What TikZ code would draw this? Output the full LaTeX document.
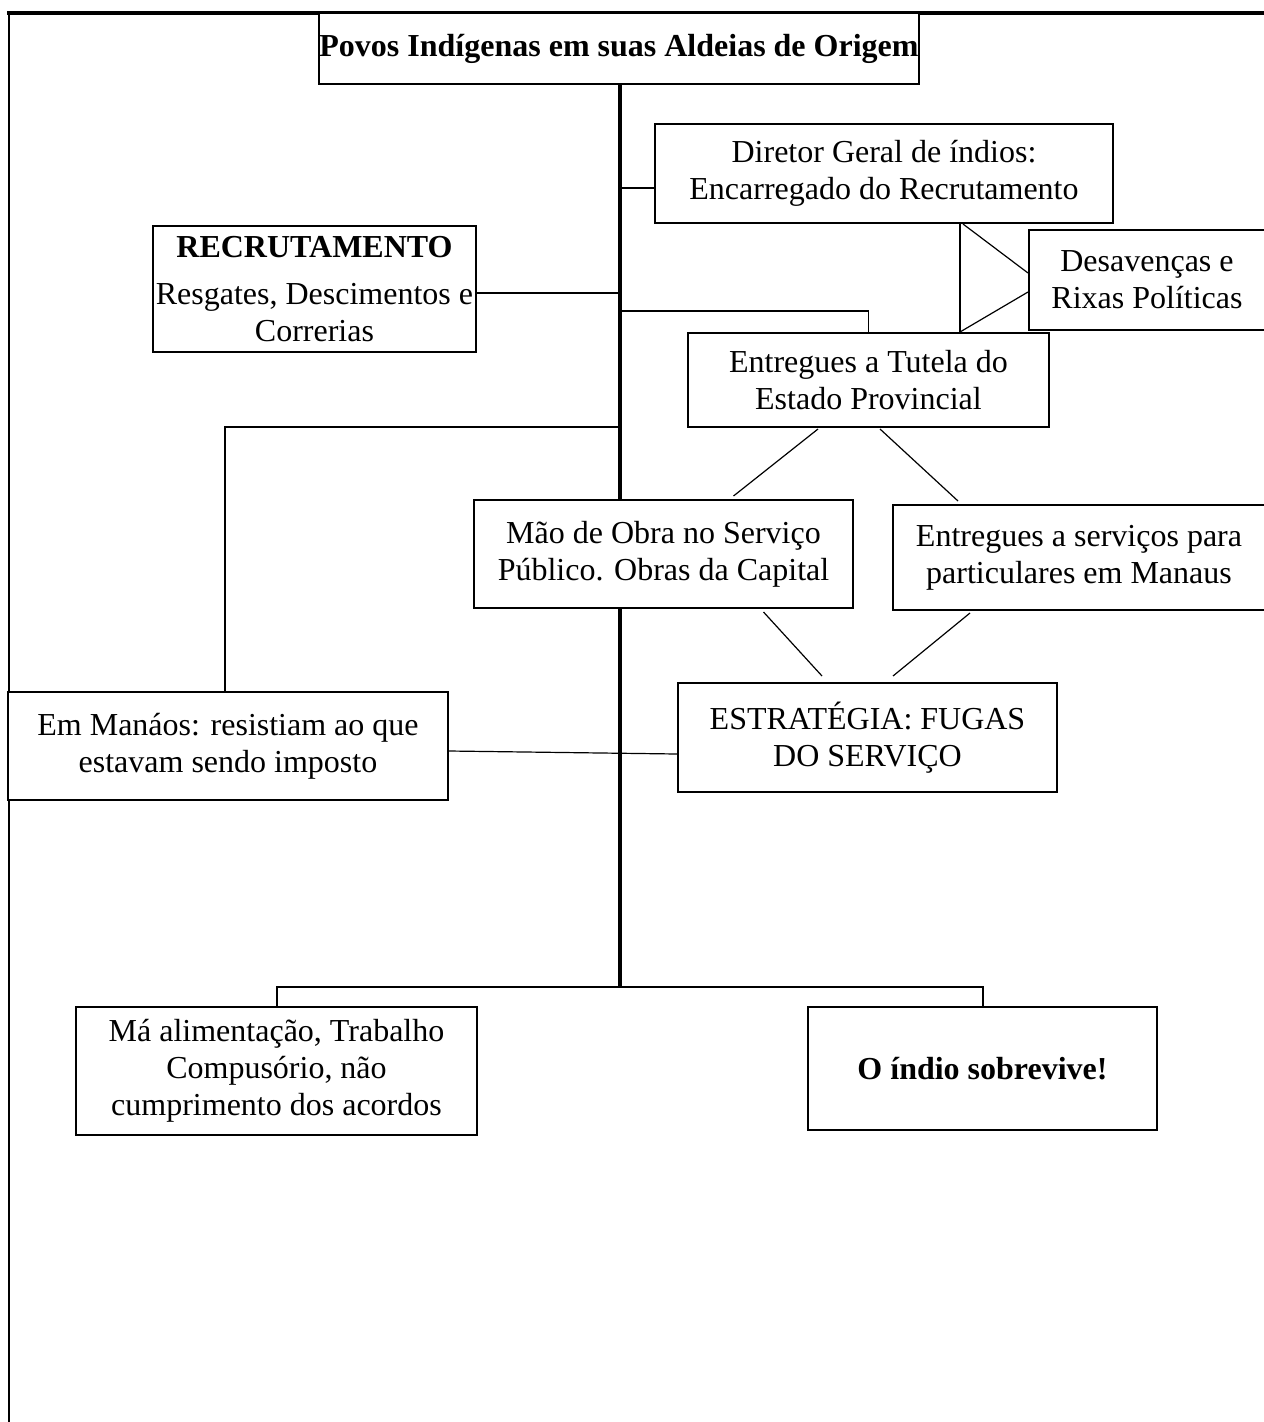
\documentclass[tikz,border=0pt]{standalone}
\usepackage{fontspec}
\setmainfont{Liberation Serif}
\usetikzlibrary{calc}
\begin{document}
\begin{tikzpicture}[x=1pt,y=-1pt,
  box/.style={draw, line width=2pt, fill=white, align=center, inner sep=0pt,
              font=\fontsize{32}{37}\selectfont},
  link/.style={line width=1.2pt},
  drop/.style={line width=2pt},
  spine/.style={line width=4pt}]
\useasboundingbox (0,0) rectangle (1264,1422);

% outer frame (top and left edges)
\draw[line width=4pt] (7,13) -- (1266,13);
\draw[line width=2pt] (9,12) -- (9,1424);

% central spine, drawn first so boxes sit over it
\coordinate (top) at (620,84);
\coordinate (bot) at (620,987);
\draw[spine] (top) -- (bot);

% boxes
\node[box, minimum width=599pt, minimum height=71pt] (title) at (619,48.5)
  {\textbf{Povos Indígenas em suas Aldeias de Origem}};
\node[box, minimum width=458pt, minimum height=99pt] (dir) at (884,173.5)
  {Diretor Geral de índios:\\Encarregado do Recrutamento};
\node[box, minimum width=323pt, minimum height=126pt] (rec) at (314.5,289)
  {\textbf{RECRUTAMENTO}\\[10pt]Resgates, Descimentos e\\Correrias};
\node[box, minimum width=236pt, minimum height=100pt] (des) at (1147,280)
  {Desavenças e\\Rixas Políticas};
\node[box, minimum width=361pt, minimum height=94pt] (tut) at (868.5,380)
  {Entregues a Tutela do\\Estado Provincial};
\node[box, minimum width=379pt, minimum height=108pt] (mao) at (663.5,554)
  {Mão de Obra no Serviço\\Público. Obras da Capital};
\node[box, minimum width=372pt, minimum height=105pt] (ser) at (1079,557.5)
  {Entregues a serviços para\\particulares em Manaus};
\node[box, minimum width=379pt, minimum height=109pt] (est) at (867.5,737.5)
  {ESTRATÉGIA: FUGAS\\DO SERVIÇO};
\node[box, minimum width=440pt, minimum height=108pt] (man) at (228,746)
  {Em Manáos: resistiam ao que\\estavam sendo imposto};
\node[box, minimum width=401pt, minimum height=128pt] (ma) at (276.5,1071)
  {Má alimentação, Trabalho\\Compusório, não\\cumprimento dos acordos};
\node[box, minimum width=349pt, minimum height=123pt] (ind) at (982.5,1068.5)
  {\textbf{O índio sobrevive!}};

% branches off the spine
\coordinate (s1) at (620,188);
\coordinate (s2) at (620,293);
\coordinate (s3) at (620,311);
\coordinate (s4) at (620,427);
\draw[link] (s1) -- (s1 -| dir.west);
\draw[link] (rec.east |- s2) -- (s2);
\draw[link] (s3) -| (tut.north);
\draw[link] (s4) -- (225,427) -- (man.north -| 225,0);

% Diretor / Tutela / Desavenças triangle
\coordinate (tv1) at (dir.south -| 960,0);
\coordinate (tv2) at (tut.north -| 960,0);
\draw[link] (tv1) -- (tv2);
\draw[link] ($(tv1)+(3,0)$) -- ($(des.west)+(0,-7)$);
\draw[link] (tv2) -- ($(des.west)+(0,12)$);

% Tutela splits into the two services
\draw[link] ($(tut.south)+(-50.5,1)$) -- ($(mao.north)+(70,-3)$);
\draw[link] ($(tut.south)+(11.5,1)$) -- ($(ser.north)+(-121,-3)$);

% both services lead to the escape strategy
\draw[link] ($(mao.south)+(100,3)$) -- ($(est.north)+(-45.5,-6)$);
\draw[link] ($(ser.south)+(-109,2)$) -- ($(est.north)+(25.5,-6)$);

% resistance in Manáos tied to the strategy
\draw[link] ($(man.east)+(0,5)$) -- ($(est.west)+(0,16.5)$);

% final outcomes
\draw[drop] (ma.north) |- (bot) -| (ind.north);
\end{tikzpicture}
\end{document}
